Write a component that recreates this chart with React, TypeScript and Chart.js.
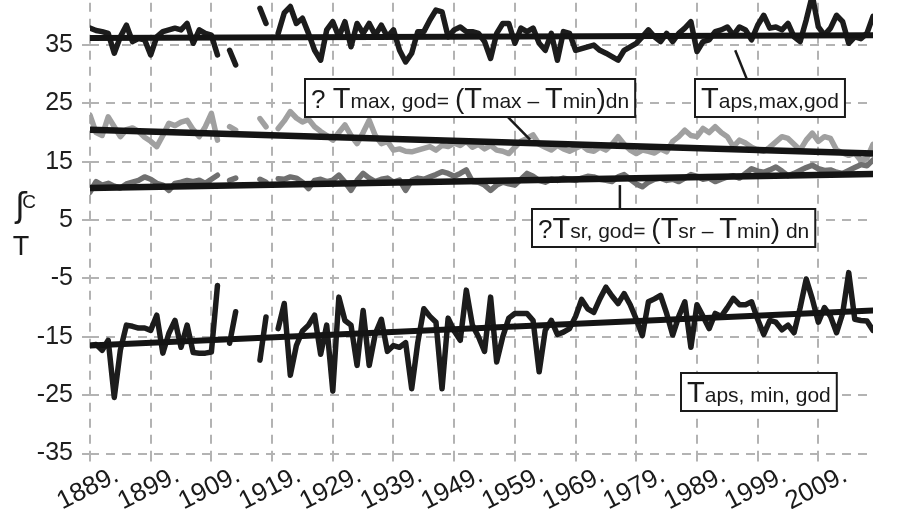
import { useEffect, useRef } from "react";
import { Chart, registerables } from "chart.js";

Chart.register(...registerables);

const FONT = '"Liberation Sans", Arial, sans-serif';

// ---- categories / axes ----
const firstYear = 1889;
const lastYear = 2018;
const years: number[] = Array.from({ length: lastYear - firstYear + 1 }, (_, i) => firstYear + i);
const xTickYears = [1889, 1899, 1909, 1919, 1929, 1939, 1949, 1959, 1969, 1979, 1989, 1999, 2009];
const yTicks = [-35, -25, -15, -5, 5, 15, 25, 35, 45];

// ---- series (null = missing year) ----
const apsMax: (number | null)[] = [
  37.9, 37.5, 37.3, 37.0, 33.6, 36.4, 38.4, 35.6, 36.1, 35.9,
  33.3, 36.4, 37.3, 37.6, 37.9, 37.6, 38.7, 35.3, 37.6, 37.0,
  36.7, 33.3, null, 34.1, 31.6, null, null, null, 41.3, 38.7,
  null, 37.0, 40.5, 41.6, 38.7, 39.6, 37.0, 34.1, 32.4, 37.6,
  39.0, 36.4, 39.0, 34.7, 38.7, 37.0, 38.7, 36.7, 38.4, 36.4,
  37.6, 34.1, 32.1, 33.6, 37.3, 37.3, 39.3, 41.0, 40.7, 36.4,
  37.6, 38.1, 37.3, 37.3, 37.0, 35.6, 32.7, 37.0, 38.7, 38.7,
  35.3, 37.9, 37.3, 37.9, 35.3, 34.1, 37.0, 32.4, 37.3, 37.0,
  34.1, 34.4, 34.7, 35.0, 34.1, 33.6, 33.0, 32.4, 34.1, 34.7,
  35.3, 36.4, 37.6, 36.4, 35.6, 37.0, 35.6, 37.0, 37.9, 39.0,
  33.9, 35.6, 35.9, 37.3, 37.6, 38.1, 36.7, 38.1, 37.6, 35.9,
  38.4, 40.1, 37.9, 38.1, 37.6, 38.7, 36.4, 35.6, 39.3, 43.5,
  38.1, 36.7, 37.9, 40.1, 39.0, 35.3, 36.4, 36.1, 37.0, 39.9,
];

const apsMin: (number | null)[] = [
  -16.5, -16.3, -17.3, -15.6, -25.4, -17.3, -13.0, -13.2, -13.5, -13.5,
  -13.9, -11.3, -17.8, -14.4, -12.2, -16.8, -13.0, -17.7, -17.8, -17.8,
  -17.6, -6.2, null, -16.1, -10.7, null, null, null, -19.0, -11.6,
  null, -13.6, -9.3, -21.6, -16.5, -14.0, -13.0, -11.3, -18.0, -13.0,
  -24.3, -8.2, -12.2, -13.0, -19.9, -10.5, -19.9, -14.5, -12.0, -17.5,
  -16.5, -16.8, -16.0, -23.9, -16.0, -10.2, -11.5, -12.5, -23.9, -11.8,
  -14.0, -15.6, -7.0, -13.0, -15.0, -17.5, -8.2, -19.3, -15.0, -11.8,
  -11.0, -11.0, -11.0, -12.2, -21.0, -13.9, -12.2, -14.6, -14.2, -13.6,
  -11.5, -8.6, -10.2, -10.8, -8.5, -6.5, -8.0, -9.3, -7.6, -9.5,
  -12.0, -14.8, -9.0, -8.5, -7.9, -11.0, -14.7, -11.5, -9.0, -16.8,
  -9.5, -11.5, -13.6, -11.0, -11.5, -10.0, -8.4, -9.5, -9.5, -9.0,
  -12.0, -14.6, -12.2, -12.5, -13.8, -13.0, -14.3, -10.0, -5.1, -8.5,
  -12.5, -10.0, -11.5, -14.3, -11.0, -4.0, -12.0, -12.2, -12.3, -13.9,
];

const tmaxDiff: (number | null)[] = [
  23.0, 20.0, 19.5, 22.7, 21.0, 19.3, 20.5, 20.8, 20.2, 19.2,
  18.5, 17.6, 19.5, 21.6, 21.2, 21.8, 22.1, 20.5, 19.3, 21.0,
  23.3, 18.7, null, 21.0, 20.4, null, null, null, 22.4, 21.0,
  null, 20.7, 22.0, 23.6, 22.5, 21.8, 22.3, 21.0, 20.2, 19.5,
  18.7, 20.0, 21.3, 19.5, 18.1, 20.0, 22.1, 19.5, 18.1, 18.5,
  17.0, 17.2, 16.8, 16.7, 17.0, 17.3, 17.6, 17.0, 17.8, 17.6,
  18.2, 17.8, 18.5, 17.5, 18.0, 17.2, 17.8, 17.0, 16.8, 16.4,
  17.5, 18.5, 19.0, 19.6, 18.0, 17.5, 17.0, 17.8, 17.2, 16.8,
  17.3, 17.8, 17.0, 16.8, 17.5, 17.0, 18.0, 19.3, 18.0, 17.0,
  16.4, 17.0, 16.8, 16.5, 17.2, 16.7, 18.5, 19.3, 20.4, 19.5,
  19.3, 20.7, 20.0, 21.0, 20.0, 19.3, 17.6, 18.7, 18.2, 17.5,
  17.0, 16.8, 17.5, 18.4, 19.3, 19.0, 18.0, 17.0, 18.7, 19.9,
  18.5, 19.3, 19.0, 17.0, 16.5, 16.1, 16.5, 15.2, 15.6, 18.0,
];

const tsrDiff: (number | null)[] = [
  9.8, 11.6, 11.0, 11.3, 10.8, 10.5, 11.2, 11.5, 11.8, 12.4,
  12.0, 11.3, 11.0, 10.1, 11.3, 11.5, 11.8, 11.6, 11.85, 11.3,
  12.0, 12.7, null, 11.8, 12.2, null, null, null, 12.0, 11.5,
  null, 12.1, 12.0, 12.4, 12.2, 11.5, 10.4, 11.8, 12.0, 11.6,
  11.85, 12.7, 11.5, 10.1, 11.8, 13.0, 12.2, 11.6, 12.0, 12.2,
  11.5, 11.85, 10.1, 11.8, 12.2, 12.0, 12.4, 12.8, 13.3, 13.0,
  12.5, 13.0, 13.6, 11.6, 11.5, 11.0, 10.1, 11.0, 11.5, 11.2,
  11.0, 12.0, 13.0, 12.5, 11.8, 11.5, 12.0, 11.8, 12.2, 12.0,
  11.8, 12.2, 12.5, 12.4, 12.0, 11.8, 11.6, 12.4, 12.8, 12.0,
  11.2, 10.7, 11.5, 12.0, 12.2, 11.8, 12.0, 11.6, 12.2, 12.8,
  12.5, 12.0, 12.2, 11.6, 12.0, 12.4, 12.6, 12.2, 13.0, 13.8,
  13.4, 13.2, 13.6, 14.1, 13.4, 12.6, 13.0, 13.5, 14.0, 14.4,
  13.8, 13.5, 13.6, 13.2, 13.0, 13.5, 14.0, 14.5, 14.3, 15.3,
];

// ---- linear trends (value at first and last year) ----
const trendYears = [1889, 2018];
const apsMaxTrend = [36.2, 36.7];
const tmaxDiffTrend = [20.5, 16.4];
const tsrDiffTrend = [10.5, 12.9];
const apsMinTrend = [-16.5, -10.5];

// ---- annotation labels: runs of [text, font size] ----
type Run = [string, number];
const labelTmax: Run[] = [["? ", 26], ["T", 29], ["max, god= ", 21], ["(", 28], ["T", 29], ["max – ", 21], ["T", 29], ["min", 21], [")", 28], ["dn", 21]];
const labelApsMax: Run[] = [["T", 29], ["aps,max,god", 21]];
const labelTsr: Run[] = [["?", 26], ["T", 29], ["sr, god= ", 21], ["(", 28], ["T", 29], ["sr – ", 21], ["T", 29], ["min", 21], [")", 28], [" dn", 21]];
const labelApsMin: Run[] = [["T", 29], ["aps, min, god", 21]];

// box anchors: left edge year, vertical centre value
const boxes: { runs: Run[]; year: number; value: number }[] = [
  { runs: labelTmax, year: 1924.4, value: 25.9 },
  { runs: labelApsMax, year: 1988.7, value: 25.9 },
  { runs: labelTsr, year: 1961.8, value: 3.7 },
  { runs: labelApsMin, year: 1986.4, value: -24.4 },
];
// leader lines: [year1, value1, year2, value2]
const leaders: number[][] = [
  [1957.9, 22.6, 1961.5, 18.8],
  [1995.3, 34.1, 1997.2, 29.2],
  [1976.3, 11.0, 1976.3, 7.0],
];

const toPts = (vals: (number | null)[]) => years.map((x, i) => ({ x, y: vals[i] }));
const toTrend = (vals: number[]) => trendYears.map((x, i) => ({ x, y: vals[i] }));

function runsWidth(ctx: CanvasRenderingContext2D, runs: Run[]) {
  let w = 0;
  for (const [t, s] of runs) {
    ctx.font = `${s}px ${FONT}`;
    w += ctx.measureText(t).width;
  }
  return w;
}

const overlay = {
  id: "overlay",
  afterDraw(chart: any) {
    const { ctx, chartArea, scales } = chart;
    const xs = scales.x;
    const ys = scales.y;
    ctx.save();
    ctx.fillStyle = "#1a1a1a";
    ctx.strokeStyle = "#1a1a1a";

    // x tick labels, rotated and centred on ticks
    ctx.font = `26px ${FONT}`;
    ctx.textAlign = "center";
    ctx.textBaseline = "middle";
    for (const yr of xTickYears) {
      const x = xs.getPixelForValue(yr);
      ctx.save();
      ctx.translate(x - 2, chartArea.bottom + 35);
      ctx.rotate((-27 * Math.PI) / 180);
      ctx.fillText(`${yr}.`, 0, 0);
      ctx.restore();
    }

    // y axis title
    ctx.textAlign = "center";
    ctx.textBaseline = "middle";
    const ty = ys.getPixelForValue(5);
    ctx.font = `34px "DejaVu Sans", sans-serif`;
    ctx.fillText("ʃ", 21, ty - 12);
    ctx.font = `19px ${FONT}`;
    ctx.fillText("C", 29, ty - 17);
    ctx.font = `27px ${FONT}`;
    ctx.fillText("T", 21, ty + 27);

    // leader lines
    ctx.lineWidth = 2.5;
    for (const [x1, y1, x2, y2] of leaders) {
      ctx.beginPath();
      ctx.moveTo(xs.getPixelForValue(x1), ys.getPixelForValue(y1));
      ctx.lineTo(xs.getPixelForValue(x2), ys.getPixelForValue(y2));
      ctx.stroke();
    }

    // label boxes
    ctx.textAlign = "left";
    ctx.textBaseline = "alphabetic";
    for (const b of boxes) {
      const w = runsWidth(ctx, b.runs) + 12;
      const h = 38;
      const x = Math.round(xs.getPixelForValue(b.year));
      const cy = ys.getPixelForValue(b.value);
      const y = Math.round(cy - h / 2);
      ctx.fillStyle = "#ffffff";
      ctx.fillRect(x, y, w, h);
      ctx.lineWidth = 2;
      ctx.strokeRect(x, y, w, h);
      ctx.fillStyle = "#1a1a1a";
      let cx = x + 6;
      for (const [t, s] of b.runs) {
        ctx.font = `${s}px ${FONT}`;
        ctx.fillText(t, cx, y + h - 9);
        cx += ctx.measureText(t).width;
      }
    }
    ctx.restore();
  },
};

export default function App() {
  const ref = useRef<HTMLCanvasElement | null>(null);

  useEffect(() => {
    if (!ref.current) return;
    const gridColor = "#b3b3b3";
    const common = { pointRadius: 0, tension: 0, borderJoinStyle: "round" as const, borderCapStyle: "round" as const, spanGaps: false };
    const chart = new Chart(ref.current, {
      type: "line",
      data: {
        datasets: [
          { ...common, data: toTrend(apsMaxTrend), borderColor: "#141414", borderWidth: 6 },
          { ...common, data: toTrend(tmaxDiffTrend), borderColor: "#141414", borderWidth: 6.5 },
          { ...common, data: toTrend(tsrDiffTrend), borderColor: "#141414", borderWidth: 6.5 },
          { ...common, data: toTrend(apsMinTrend), borderColor: "#141414", borderWidth: 6 },
          { ...common, data: toPts(apsMax), borderColor: "#1c1c1c", borderWidth: 5.5 },
          { ...common, data: toPts(apsMin), borderColor: "#1c1c1c", borderWidth: 5.5 },
          { ...common, data: toPts(tsrDiff), borderColor: "#707070", borderWidth: 5.5 },
          { ...common, data: toPts(tmaxDiff), borderColor: "#a0a0a0", borderWidth: 5.5 },
        ] as any,
      },
      options: {
        animation: false,
        responsive: true,
        maintainAspectRatio: false,
        layout: { padding: { top: 26.7, right: 31, bottom: 0, left: 0 } },
        plugins: { legend: { display: false }, tooltip: { enabled: false } },
        scales: {
          x: {
            type: "linear",
            min: firstYear,
            max: lastYear,
            afterBuildTicks: (s: any) => {
              s.ticks = xTickYears.map((value) => ({ value }));
            },
            afterFit: (s: any) => {
              s.height = 55.5;
            },
            ticks: { display: false },
            grid: { color: gridColor, lineWidth: 2, tickLength: 8 },
            border: { display: false, dash: [9, 7] },
          },
          y: {
            type: "linear",
            min: -35,
            max: 45,
            afterBuildTicks: (s: any) => {
              s.ticks = yTicks.map((value) => ({ value }));
            },
            afterFit: (s: any) => {
              s.width = 90;
            },
            ticks: { color: "#1e1e1e", font: { family: FONT, size: 25 }, padding: 9 },
            grid: { color: gridColor, lineWidth: 2, tickLength: 8 },
            border: { display: false, dash: [9, 7] },
          },
        },
      } as any,
      plugins: [overlay],
    });
    return () => chart.destroy();
  }, []);

  return (
    <div style={{ position: "absolute", left: 0, top: -40, width: 904, height: 549, background: "#fff" }}>
      <canvas ref={ref} />
    </div>
  );
}
